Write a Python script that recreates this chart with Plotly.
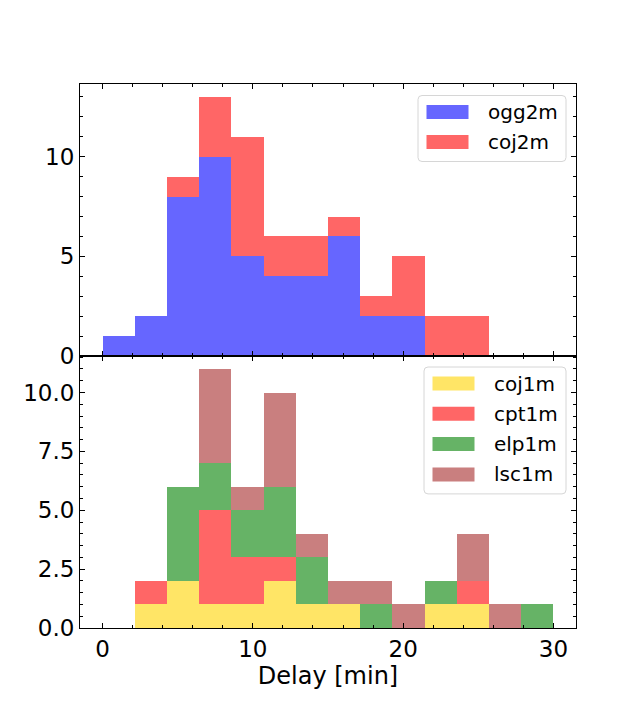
import numpy as np
import plotly.graph_objects as go
from plotly.subplots import make_subplots

bin_edges = list(np.linspace(0, 30, 15))
bin_left = bin_edges[:-1]
bin_width = 30 / 14

# Top panel (2m telescopes)
ogg2m = [1, 2, 8, 10, 5, 4, 4, 6, 2, 2, 0, 0, 0, 0]
coj2m = [0, 0, 1, 3, 6, 2, 2, 1, 1, 3, 2, 2, 0, 0]

# Bottom panel (1m telescopes)
coj1m = [0, 1, 2, 1, 1, 2, 1, 1, 0, 0, 1, 1, 0, 0]
cpt1m = [0, 1, 0, 4, 2, 1, 0, 0, 0, 0, 0, 1, 0, 0]
elp1m = [0, 0, 4, 2, 2, 3, 2, 0, 1, 0, 1, 0, 0, 1]
lsc1m = [0, 0, 0, 4, 1, 4, 1, 1, 1, 1, 0, 2, 1, 0]

top_series = [("ogg2m", ogg2m, "rgb(102,102,255)"), ("coj2m", coj2m, "rgb(255,102,102)")]
bot_series = [("coj1m", coj1m, "rgb(255,229,102)"), ("cpt1m", cpt1m, "rgb(255,102,102)"),
              ("elp1m", elp1m, "rgb(102,179,102)"), ("lsc1m", lsc1m, "rgb(201,127,127)")]

W, H = 640, 705
ML, MR, MT, MB = 80, 64, 84, 77

fig = make_subplots(rows=2, cols=1, shared_xaxes=True, vertical_spacing=0)

for name, vals, col in top_series:
    fig.add_trace(go.Bar(x=bin_left, y=vals, width=bin_width, offset=0, name=name, showlegend=False,
                         marker=dict(color=col, line=dict(width=0))), row=1, col=1)
for name, vals, col in bot_series:
    fig.add_trace(go.Bar(x=bin_left, y=vals, width=bin_width, offset=0, name=name, showlegend=False,
                         marker=dict(color=col, line=dict(width=0))), row=2, col=1)

tick_font = dict(family="DejaVu Sans", size=23, color="black")
axis_common = dict(showline=True, linecolor="black", linewidth=1, mirror="allticks",
                   ticks="inside", ticklen=5, tickwidth=1, tickcolor="black",
                   showgrid=False, zeroline=False, tickfont=tick_font)

fig.update_xaxes(**axis_common, range=[-1.5, 31.5], tickvals=[0, 10, 20, 30],
                 minor=dict(ticks="inside", ticklen=3, tickcolor="black", dtick=2, tick0=0, showgrid=False))
fig.update_xaxes(showticklabels=False, row=1, col=1)
fig.update_xaxes(title=dict(text="Delay [min]", font=dict(family="DejaVu Sans", size=24, color="black"),
                            standoff=2), row=2, col=1)

fig.update_yaxes(**axis_common)
fig.update_yaxes(range=[0, 13.65], tickvals=[0, 5, 10], ticktext=["0", "5", "10"],
                 minor=dict(ticks="inside", ticklen=3, tickcolor="black", dtick=1, tick0=0), row=1, col=1)
fig.update_yaxes(range=[0, 11.55], tickvals=[0, 2.5, 5, 7.5, 10],
                 ticktext=["0.0", "2.5", "5.0", "7.5", "10.0"],
                 minor=dict(ticks="inside", ticklen=3, tickcolor="black", dtick=0.5, tick0=0), row=2, col=1)

# --- matplotlib-style legends drawn in paper coordinates ---
PW, PH = W - ML - MR, H - MT - MB
def px(x):
    return (x - ML) / PW
def py(y):
    return (H - MB - y) / PH

shapes, annots = [], []
def add_legend(series, box_left, box_top, box_right, row_h=30.3):
    n = len(series)
    first_c = box_top + 16.5
    box_bottom = first_c + (n - 1) * row_h + 19.5
    r = 4
    x0, x1, y0, y1 = px(box_left), px(box_right), py(box_top), py(box_bottom)
    rx, ry = r / PW, r / PH
    path = (f"M {x0+rx},{y0} L {x1-rx},{y0} Q {x1},{y0} {x1},{y0-ry} "
            f"L {x1},{y1+ry} Q {x1},{y1} {x1-rx},{y1} L {x0+rx},{y1} Q {x0},{y1} {x0},{y1+ry} "
            f"L {x0},{y0-ry} Q {x0},{y0} {x0+rx},{y0} Z")
    shapes.append(dict(type="path", xref="paper", yref="paper", path=path,
                       fillcolor="rgba(255,255,255,0.8)", line=dict(color="rgb(214,214,214)", width=1)))
    p_left = box_left + 8.5
    for i, (name, _, col) in enumerate(series):
        c = first_c + i * row_h
        shapes.append(dict(type="rect", xref="paper", yref="paper",
                           x0=px(p_left), x1=px(p_left + 42), y0=py(c - 7), y1=py(c + 7),
                           fillcolor=col, line=dict(width=0)))
        annots.append(dict(xref="paper", yref="paper", x=px(p_left + 59), y=py(c), text=name,
                           showarrow=False, xanchor="left", yanchor="middle",
                           font=dict(family="DejaVu Sans", size=20, color="black")))

add_legend(top_series, 418, 95.5, 566, row_h=30)
add_legend(bot_series, 424, 367, 566, row_h=30.3)

fig.update_layout(
    barmode="stack", bargap=0,
    width=W, height=H, margin=dict(l=ML, r=MR, t=MT, b=MB),
    plot_bgcolor="white", paper_bgcolor="white",
    font=dict(family="DejaVu Sans", size=20, color="black"),
    showlegend=False, shapes=shapes, annotations=annots,
)

fig.write_html("out.html")
